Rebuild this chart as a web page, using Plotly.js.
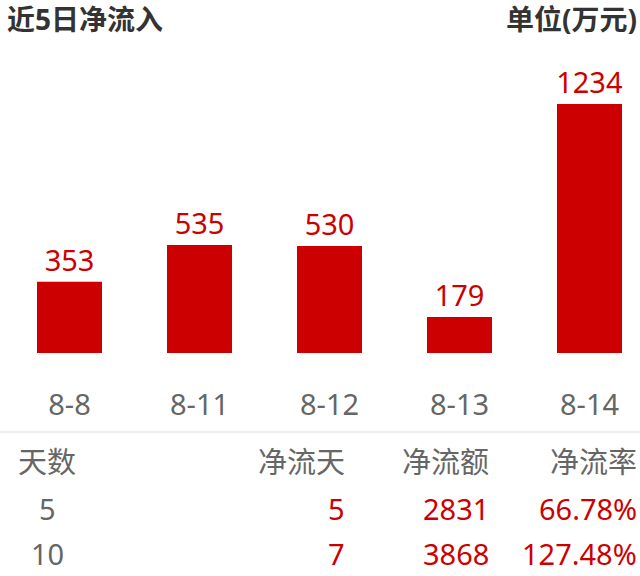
<!DOCTYPE html>
<html>
<head>
<meta charset="utf-8">
<script src="https://cdn.plot.ly/plotly-3.0.1.min.js"></script>
<style>
  html, body { margin: 0; padding: 0; background: #fff; }
  #chart { width: 640px; height: 576px; }
</style>
</head>
<body>
<div id="chart"></div>
<script>
  // ---------- Data ----------
  const dates = ["8-8", "8-11", "8-12", "8-13", "8-14"];
  const netInflow = [353, 535, 530, 179, 1234];

  const tableHeader = ["天数", "净流天", "净流额", "净流率"];
  const tableDays = ["5", "10"];
  const tableNetDays = ["5", "7"];
  const tableNetAmount = ["2831", "3868"];
  const tableNetRate = ["66.78%", "127.48%"];

  // ---------- Style tokens ----------
  const C = {
    red: "#cc0000",
    grey: "#666666",
    dark: "#333333",
    line: "#dddddd",
  };
  const FONT = "'Noto Sans', 'Noto Sans CJK SC', sans-serif";
  const W = 640, H = 576;
  const M = { l: 0, r: 0, t: 60, b: 223 };
  const plotH = H - M.t - M.b;

  // pixel (from top) -> paper y
  function py(p) { return (H - M.b - p) / plotH; }
  function px(p) { return p / W; }

  function txt(text, x, y, anchor, color, size, bold) {
    return {
      text: text, xref: "paper", yref: "paper",
      x: px(x), y: py(y), xanchor: anchor, yanchor: "middle",
      showarrow: false,
      font: { family: FONT, size: size, color: color, weight: bold ? "bold" : "normal" },
    };
  }

  // ---------- Annotations: titles + table ----------
  const ann = [
    txt("近5日净流入", 5, 19, "left", C.dark, 28, true),
    txt("单位(万元)", 639, 19, "right", C.dark, 28, true),
  ];

  const colX = [47, 347, 491, 639];
  const colAnchor = ["center", "right", "right", "right"];
  tableHeader.forEach((h, i) => ann.push(txt(h, colX[i], 461, colAnchor[i], C.grey, 29)));
  const rowY = [508, 553];
  tableDays.forEach((d, r) => {
    ann.push(txt(d, colX[0], rowY[r], "center", C.grey, 29));
    ann.push(txt(tableNetDays[r], colX[1], rowY[r], "right", C.red, 29));
    ann.push(txt(tableNetAmount[r], colX[2], rowY[r], "right", C.red, 29));
    ann.push(txt(tableNetRate[r], colX[3], rowY[r], "right", C.red, 29));
  });

  // ---------- Trace ----------
  const trace = {
    type: "bar",
    x: dates,
    y: netInflow,
    width: 0.5,
    marker: { color: C.red },
    text: netInflow.map(String),
    textposition: "outside",
    constraintext: "none",
    cliponaxis: false,
    textfont: { family: FONT, size: 29, color: C.red },
    hoverinfo: "none",
  };

  const layout = {
    width: W, height: H,
    margin: M,
    paper_bgcolor: "#fff",
    plot_bgcolor: "#fff",
    showlegend: false,
    bargap: 0.5,
    xaxis: {
      type: "category",
      range: [-0.5346, 4.3885],
      showgrid: false, zeroline: false, showline: false,
      ticks: "",
      ticklabelstandoff: 32,
      tickfont: { family: FONT, size: 29, color: C.grey },
      fixedrange: true,
    },
    yaxis: {
      range: [0, 1452],
      visible: false,
      fixedrange: true,
    },
    shapes: [{
      type: "line", xref: "paper", yref: "paper",
      x0: 0, x1: 1, y0: py(432), y1: py(432),
      line: { color: C.line, width: 1 },
    }],
    annotations: ann,
  };

  Plotly.newPlot("chart", [trace], layout, { displayModeBar: false, staticPlot: true });
</script>
</body>
</html>
